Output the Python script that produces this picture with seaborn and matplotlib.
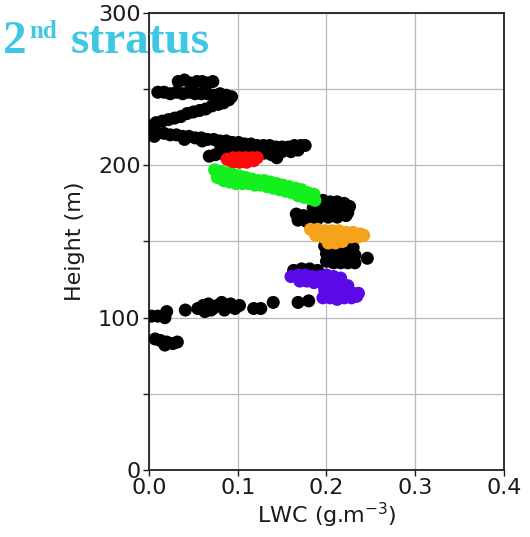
import matplotlib
matplotlib.use("Agg")
import matplotlib.pyplot as plt
import pandas as pd
import seaborn as sns

# LWC (g m^-3) and height (m) samples of the second stratus layer profile
black_lwc = [
    # top cap
    0.033, 0.040, 0.047, 0.054, 0.060, 0.066, 0.072,
    # upper arm
    0.010, 0.017, 0.024, 0.031, 0.038, 0.045, 0.052, 0.059, 0.066, 0.073, 0.080, 0.087, 0.093,
    # diagonal back to the axis
    0.090, 0.084, 0.078, 0.071, 0.064, 0.057, 0.050, 0.043, 0.036, 0.029, 0.022, 0.015, 0.008,
    0.003, 0.003, 0.006,
    # lower arm
    0.010, 0.017, 0.024, 0.031, 0.038, 0.045, 0.052, 0.059, 0.066, 0.073, 0.080, 0.087,
    0.094, 0.101, 0.108, 0.115, 0.122, 0.129, 0.136, 0.143, 0.150, 0.157, 0.164, 0.171, 0.176,
    0.150, 0.160, 0.168, 0.040, 0.060, 0.080,
    # patch around the red segment
    0.068, 0.075, 0.082, 0.090, 0.098, 0.106, 0.114, 0.122, 0.130, 0.138, 0.144,
    0.100, 0.110, 0.120, 0.130, 0.140,
    # between green and orange
    0.188, 0.196, 0.204, 0.212, 0.220, 0.226, 0.185, 0.195, 0.205, 0.215, 0.224,
    0.166, 0.174, 0.182, 0.192, 0.202, 0.212, 0.222, 0.168, 0.178, 0.188,
    # below orange
    0.198, 0.206, 0.214, 0.222, 0.230, 0.200, 0.208, 0.216, 0.224, 0.232, 0.246,
    0.200, 0.208, 0.216, 0.224, 0.232,
    # above purple
    0.163, 0.172, 0.181, 0.190,
    # lower scattered samples
    0.003, 0.010, 0.018, 0.020, 0.041,
    0.055, 0.061, 0.067, 0.072, 0.077, 0.082, 0.087, 0.092, 0.097, 0.102, 0.085, 0.070, 0.063,
    0.118, 0.126, 0.140, 0.168, 0.180,
    0.007, 0.013, 0.020, 0.027, 0.032, 0.018,
]
black_height = [
    255, 256, 254, 255, 255, 254, 255,
    248, 248, 247, 248, 247, 248, 247, 247, 247, 246, 247, 246, 245,
    243, 241, 240, 239, 237, 236, 235, 234, 232, 231, 230, 229, 228,
    226, 222, 219,
    221, 221, 220, 220, 219, 219, 218, 218, 217, 217, 216, 216,
    215, 215, 214, 214, 213, 213, 213, 212, 212, 212, 213, 213, 213,
    209, 209, 210, 217, 216, 214,
    206, 207, 208, 209, 209, 210, 210, 209, 208, 207, 205,
    213, 213, 212, 212, 211,
    177, 177, 176, 176, 175, 173, 172, 171, 171, 170, 169,
    168, 167, 166, 166, 166, 166, 167, 164, 163, 163,
    147, 146, 146, 146, 146, 142, 141, 141, 141, 141, 139,
    137, 136, 136, 136, 136,
    131, 132, 132, 131,
    101, 101, 100, 104, 105,
    106, 108, 109, 106, 108, 110, 107, 109, 106, 108, 105, 105, 104,
    106, 106, 110, 110, 111,
    86, 85, 84, 83, 84, 82,
]

red_lwc = [0.088, 0.095, 0.102, 0.109, 0.116, 0.122, 0.094, 0.102, 0.110, 0.118]
red_height = [204, 205, 205, 205, 205, 205, 202, 202, 202, 203]

green_lwc = [0.074, 0.081, 0.088, 0.095, 0.102, 0.109, 0.116, 0.123, 0.130, 0.137,
             0.144, 0.151, 0.158, 0.165, 0.172, 0.179, 0.186,
             0.077, 0.084, 0.091, 0.098, 0.105, 0.112, 0.119, 0.126, 0.133,
             0.140, 0.147, 0.154, 0.161, 0.168, 0.175, 0.182, 0.187]
green_height = [197, 196, 195, 194, 193, 192, 191, 190, 190, 189,
                188, 187, 186, 185, 184, 182, 181,
                192, 190, 189, 188, 188, 188, 187, 187, 186,
                185, 184, 183, 182, 180, 179, 178, 177]

orange_lwc = [0.182, 0.190, 0.198, 0.206, 0.214, 0.222, 0.230, 0.238, 0.242,
              0.188, 0.196, 0.204, 0.212, 0.220, 0.228, 0.236,
              0.202, 0.210, 0.218]
orange_height = [158, 158, 157, 157, 157, 156, 156, 155, 154,
                 154, 153, 153, 152, 152, 153, 153,
                 149, 149, 150]

purple_lwc = [0.160, 0.168, 0.176, 0.184, 0.192, 0.200, 0.208, 0.216,
              0.170, 0.178, 0.186, 0.194, 0.202, 0.210, 0.218, 0.224,
              0.198, 0.206, 0.214, 0.222, 0.230, 0.236,
              0.196, 0.204, 0.212, 0.220, 0.228, 0.234]
purple_height = [127, 128, 128, 127, 127, 128, 127, 126,
                 124, 124, 123, 123, 122, 122, 122, 121,
                 118, 118, 117, 117, 116, 116,
                 113, 113, 112, 113, 113, 114]

x_ticks = [0.0, 0.1, 0.2, 0.3, 0.4]
y_ticks = [0, 50, 100, 150, 200, 250, 300]
y_tick_labels = ["0", "", "100", "", "200", "", "300"]

segments = [
    ("base", black_lwc, black_height),
    ("red", red_lwc, red_height),
    ("green", green_lwc, green_height),
    ("orange", orange_lwc, orange_height),
    ("purple", purple_lwc, purple_height),
]
df = pd.concat(
    [pd.DataFrame({"lwc": x, "height": y, "segment": name}) for name, x, y in segments],
    ignore_index=True,
)
palette = {"base": "#000000", "red": "#ff0a0a", "green": "#14f01e",
           "orange": "#f5a31c", "purple": "#5a0ae6"}

sns.set_theme(style="white")
plt.rcParams["font.family"] = ["DejaVu Sans"]

fig = plt.figure(figsize=(5.30, 5.37), dpi=100)
ax = fig.add_axes([0.281, 0.1248, 0.670, 0.851])

sns.scatterplot(data=df, x="lwc", y="height", hue="segment", palette=palette,
                s=88, linewidth=0, alpha=1, legend=False, ax=ax, zorder=3)

ax.set_xlim(0, 0.4)
ax.set_ylim(0, 300)
ax.set_xticks(x_ticks)
ax.set_xticklabels([f"{v:.1f}" for v in x_ticks])
ax.set_yticks(y_ticks)
ax.set_yticklabels(y_tick_labels)
ax.grid(True, color="#b8b8b8", linewidth=0.9)
ax.set_axisbelow(True)
ax.tick_params(axis="both", labelsize=16, colors="#1a1a1a", length=4, width=1,
               direction="out", bottom=True, left=True, pad=2)
for sp in ax.spines.values():
    sp.set_color("#222222")
    sp.set_linewidth(1.3)
ax.set_xlabel("LWC (g.m$^{-3}$)", fontsize=16, color="#1a1a1a", labelpad=2)
ax.set_ylabel("Height (m)", fontsize=16, color="#1a1a1a", labelpad=9)

title_color = "#3ec8e4"
serif = ["Liberation Serif", "DejaVu Serif"]
fig.text(3 / 530, 1 - 53 / 537, "2", fontsize=34, fontweight="bold",
         family=serif, color=title_color, va="baseline", ha="left")
fig.text(29 / 530, 1 - 38 / 537, "nd", fontsize=18, fontweight="bold",
         family=serif, color=title_color, va="baseline", ha="left")
fig.text(71 / 530, 1 - 53 / 537, "stratus", fontsize=34, fontweight="bold",
         family=serif, color=title_color, va="baseline", ha="left")

fig.savefig("out.png", dpi=100)
